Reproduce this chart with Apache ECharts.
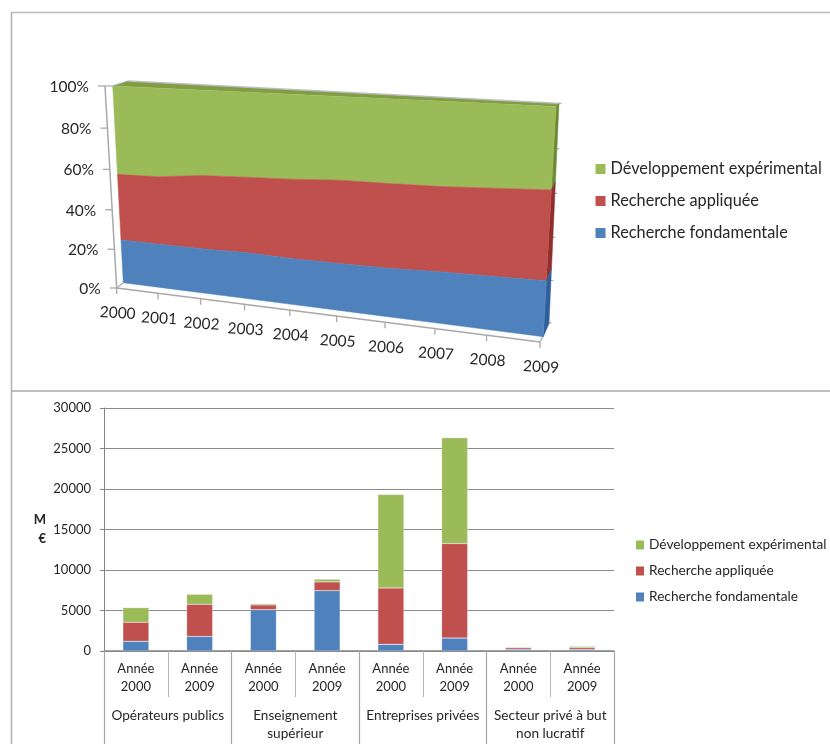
<!DOCTYPE html>
<html><head><meta charset="utf-8">
<style>html,body{margin:0;padding:0;background:#fff}#c{width:830px;height:744px}</style>
<script src="https://cdn.jsdelivr.net/npm/echarts@6/dist/echarts.min.js"></script>
</head><body><div id="c"></div>
<script>
// ---- data: top chart (share, %) ----
const years = ['2000','2001','2002','2003','2004','2005','2006','2007','2008','2009'];
const pctTicks = [0,20,40,60,80,100];
const shareFond = [22.6,22.6,22.6,23.2,22.7,22.9,23.2,24.2,24.8,25.4];
const shareAppl = [33.7,34.2,36.6,36.9,38.2,39.3,39.2,38.7,39.2,39.7];
const shareDev  = [43.7,43.2,40.8,39.9,39.1,37.8,37.6,37.1,36.0,34.9];
// ---- data: bottom chart (M€) ----
const periods = ['Année\n2000','Année\n2009','Année\n2000','Année\n2009','Année\n2000','Année\n2009','Année\n2000','Année\n2009'];
const sectors = ['Opérateurs publics','Enseignement\nsupérieur','Entreprises privées','Secteur privé à but\nnon lucratif'];
const valFond = [1200,1800,5100,7460,820,1600,200,180];
const valAppl = [2350,3970,590,1070,6970,11670,200,230];
const valDev  = [1800,1230,150,330,11530,13060,90,160];
const nameDev='Développement expérimental', nameAppl='Recherche appliquée', nameFond='Recherche fondamentale';

const GREEN='#9BBB59', RED='#C0504D', BLUE='#4F81BD';
const FONT='Lato, "Open Sans", sans-serif';

// perspective quads (TL,TR,BR,BL) for the 3D look of the top chart
const Q_FRONT=[[112.7,86],[556,106.5],[543.3,336.7],[123.3,282.7]];
const Q_BACK =[[128,81],[559,103.5],[549,323],[134,277]];
const Q_AXIS =[[105,86],[553,110],[540,342],[116.7,288]];

function homography(q){
  const [[x0,y0],[x1,y1],[x2,y2],[x3,y3]]=q;
  const dx1=x1-x2,dx2=x3-x2,sx=x0-x1+x2-x3,dy1=y1-y2,dy2=y3-y2,sy=y0-y1+y2-y3;
  const den=dx1*dy2-dx2*dy1;
  const g=(sx*dy2-dx2*sy)/den,h=(dx1*sy-sx*dy1)/den;
  const a=x1-x0+g*x1,b=x3-x0+h*x3,d=y1-y0+g*y1,e=y3-y0+h*y3;
  return (s,t)=>{const w=g*s+h*t+1;return [(a*s+b*t+x0)/w,(d*s+e*t+y0)/w];};
}
const HF=homography(Q_FRONT),HB=homography(Q_BACK),HA=homography(Q_AXIS);
// through the hidden cartesian scales, then into a perspective plane
function proj(H,api,cs,i,v){
  const p=api.coord([i,v]);
  return H((p[0]-cs.x)/cs.width,(p[1]-cs.y)/cs.height);
}
function layerSeries(name,color,dark,lower,values){
  const rows=years.map((y,i)=>[i,lower[i],lower[i]+values[i]]);
  return {
    name,type:'custom',xAxisIndex:2,yAxisIndex:1,z:3,silent:true,
    itemStyle:{color},data:rows,
    renderItem(params,api){
      if(params.dataIndex!==0) return null;
      const cs=params.coordSys,last=rows[rows.length-1],pts=[];
      rows.forEach(r=>pts.push(proj(HF,api,cs,r[0],r[2])));
      rows.slice().reverse().forEach(r=>pts.push(proj(HF,api,cs,r[0],r[1])));
      const side=[proj(HF,api,cs,last[0],last[2]),proj(HB,api,cs,last[0],last[2]),
                  proj(HB,api,cs,last[0],last[1]),proj(HF,api,cs,last[0],last[1])];
      return {type:'group',children:[
        {type:'polygon',shape:{points:side},style:{fill:dark,stroke:dark,lineWidth:.5}},
        {type:'polygon',shape:{points:pts},style:{fill:color,stroke:color,lineWidth:.5}}
      ]};
    }
  };
}
const zeros=years.map(()=>0);
const cum1=shareFond.slice();
const cum2=shareFond.map((v,i)=>v+shareAppl[i]);

const GREY='#a9a9a9',TXT='#262626';
const frameSeries={
  type:'custom',xAxisIndex:2,yAxisIndex:1,z:2,silent:true,data:[[0,0]],
  renderItem(params,api){
    const cs=params.coordSys,n=years.length-1,c=[];
    const line=(a,b,w,col)=>c.push({type:'line',shape:{x1:a[0],y1:a[1],x2:b[0],y2:b[1]},style:{stroke:col||GREY,lineWidth:w||1.5}});
    const A=(i,v)=>proj(HA,api,cs,i,v),B=(i,v)=>proj(HB,api,cs,i,v),F=(i,v)=>proj(HF,api,cs,i,v);
    // top face
    c.push({type:'polygon',shape:{points:[F(0,100),B(0,100),B(n,100),F(n,100)]},style:{fill:'#7f9e45'}});
    const tr=B(n,100);
    line(B(0,100),[tr[0]+2.7,tr[1]],1.6,'#bdbdbd');
    line(A(0,100),F(0,100),1.2); line(F(0,100),B(0,100),1.2);
    line(A(0,0),A(0,100)); line(A(0,0),A(n,0)); line(A(0,0),F(0,0),1.2); line(A(n,0),B(n,0),1.2);
    pctTicks.forEach(t=>{
      const p=A(0,t);
      line([p[0]-7,p[1]],p,1.3);
      c.push({type:'text',x:p[0]-16,y:p[1]+1,style:{text:t+'%',align:'right',verticalAlign:'middle',fontFamily:FONT,fontSize:15.5,fill:TXT}});
      const q=B(n,t);
      if(t<100) line([q[0]-1,q[1]],[q[0]+2.5,q[1]],1.2);
    });
    years.forEach((y,i)=>{
      const p=A(i,0);
      line(p,[p[0],p[1]+6],1.3);
      c.push({type:'text',x:p[0]+1,y:p[1]+25,rotation:-0.06,style:{text:y,align:'center',verticalAlign:'middle',fontFamily:FONT,fontSize:15.5,fill:TXT}});
    });
    return {type:'group',children:c};
  }
};

const barSeries=(name,color,values)=>({name,type:'bar',stack:'m',xAxisIndex:0,yAxisIndex:0,barWidth:26,
  itemStyle:{color,borderColor:'rgba(230,230,230,.55)',borderWidth:.5},data:values,silent:true});

const chart=echarts.init(document.getElementById('c'));
chart.setOption({
  animation:false,backgroundColor:'#fff',
  grid:[{left:104,top:408,width:510,height:243},{left:100,top:80,width:460,height:260,show:false}],
  xAxis:[
    {type:'category',gridIndex:0,data:periods,position:'bottom',
     axisLine:{lineStyle:{color:'#868686',width:1.5}},
     axisTick:{show:true,length:46,lineStyle:{color:'#b5b5b5',width:1}},
     axisLabel:{interval:0,margin:9,fontFamily:FONT,fontSize:13,lineHeight:18,color:TXT}},
    {type:'category',gridIndex:0,data:sectors,position:'bottom',
     axisLine:{show:false},
     axisTick:{show:true,length:93,lineStyle:{color:'#a6a6a6',width:1.2}},
     axisLabel:{interval:0,margin:56,fontFamily:FONT,fontSize:13.6,lineHeight:18,color:TXT}},
    {type:'value',gridIndex:1,min:0,max:9,show:false}
  ],
  yAxis:[
    {type:'value',gridIndex:0,min:0,max:30000,interval:5000,
     name:'M\n€',nameLocation:'middle',nameRotate:0,nameGap:58,
     nameTextStyle:{fontFamily:FONT,fontSize:13,fontWeight:'bold',lineHeight:19,color:TXT},
     axisLine:{show:true,lineStyle:{color:'#868686',width:1}},
     axisTick:{show:true,length:4,lineStyle:{color:'#868686'}},
     splitLine:{lineStyle:{color:'#8c8c8c',width:1}},
     axisLabel:{margin:13,fontFamily:FONT,fontSize:13,color:TXT,formatter:v=>String(v)}},
    {type:'value',gridIndex:1,min:0,max:100,show:false}
  ],
  legend:[
    {orient:'vertical',left:595.5,top:159,padding:0,itemWidth:10,itemHeight:10,itemGap:12,selectedMode:false,
     icon:'rect',data:[nameDev,nameAppl,nameFond],
     textStyle:{fontFamily:FONT,fontSize:16.3,lineHeight:20,color:TXT}},
    {orient:'vertical',left:636,top:537,padding:0,itemWidth:8,itemHeight:9,itemGap:10,selectedMode:false,
     icon:'rect',data:[nameDev,nameAppl,nameFond],
     textStyle:{fontFamily:FONT,fontSize:13.7,lineHeight:16,color:TXT}}
  ],
  graphic:[
    {type:'line',z:100,shape:{x1:11.5,y1:12.5,x2:11.5,y2:744},style:{stroke:'#b4b4b4',lineWidth:1.6}},
    {type:'line',z:100,shape:{x1:11,y1:12.5,x2:830,y2:12.5},style:{stroke:'#bdbdbd',lineWidth:1.6}},
    {type:'line',z:100,shape:{x1:11,y1:391,x2:830,y2:391},style:{stroke:'#a9a9a9',lineWidth:1.6}}
  ],
  series:[
    frameSeries,
    layerSeries(nameDev,GREEN,'#6b8a33',cum2,shareDev),
    layerSeries(nameAppl,RED,'#8f2f2d',cum1,shareAppl),
    layerSeries(nameFond,BLUE,'#2f5f9c',zeros,shareFond),
    barSeries(nameFond,BLUE,valFond),
    barSeries(nameAppl,RED,valAppl),
    barSeries(nameDev,GREEN,valDev)
  ]
});
</script></body></html>
